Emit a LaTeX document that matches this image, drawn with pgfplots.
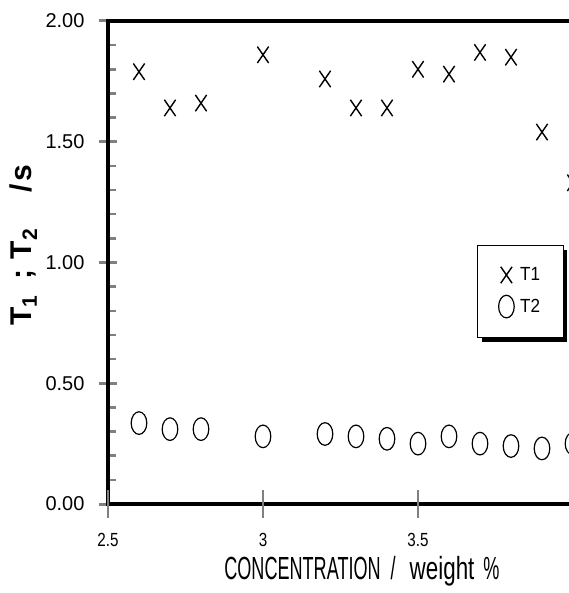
\documentclass[border=0pt]{standalone}
\usepackage{pgfplots}
\pgfplotsset{compat=1.18}
\usepackage{fontspec}
\setmainfont{Liberation Sans}
\newfontfamily\xlabcaps[FakeStretch=0.565]{Liberation Sans}
\newfontfamily\xlablow[FakeStretch=0.7]{Liberation Sans}
\newfontfamily\ylabfont{Liberation Sans Bold}
\newfontfamily\tickfont[FakeStretch=0.8]{Liberation Sans}
\newfontfamily\legfont[FakeStretch=0.9]{Liberation Sans}
\newcommand\ytl{\fontsize{20bp}{22bp}\selectfont}
\newcommand\xtl{\tickfont\fontsize{19bp}{21bp}\selectfont}
\newcommand\lgf{\legfont\fontsize{19bp}{21bp}\selectfont}
\usetikzlibrary{shadows}
\begin{document}
\begin{tikzpicture}
\begin{axis}[
  scale only axis,
  width=496bp, height=483bp,
  xmin=2.5, xmax=4.1, ymin=0, ymax=2,
  clip=false,
  axis line style={line width=3.5bp},
  xtick=\empty,
  extra x ticks={2.5,3,3.5,4},
  extra x tick labels={{\xtl 2.5},{\xtl 3},{\xtl 3.5},{\xtl 4}},
  extra x tick style={major tick length=28bp, tick style={line width=1.5bp}},
  xticklabel style={yshift=-12bp},
  xtick pos=bottom,
  ytick={0,0.5,1,1.5,2},
  yticklabels={{\ytl 0.00},{\ytl 0.50},{\ytl 1.00},{\ytl 1.50},{\ytl 2.00}},
  yticklabel style={xshift=-11bp},
  minor y tick num=4,
  ytick pos=left,
  tick align=center,
  major tick length=18bp,
  minor tick length=8bp,
  major y tick style={line width=3bp},
  minor y tick style={xshift=4bp, line width=2.5bp},
  xlabel={{\xlabcaps CONCENTRATION}\hspace{10bp}/\hspace{14bp}{\xlablow weight}\hspace{9bp}\%},
  xlabel style={font=\xlabcaps\fontsize{32bp}{36bp}\selectfont, at={(axis description cs:0.512,-0.157)}, anchor=base},
  ylabel={T\textsubscript{1}\hspace{16bp};\hspace{10bp}T\textsubscript{2}\hspace{36bp}/\hspace{3bp}s},
  ylabel style={font=\ylabfont\fontsize{30bp}{34bp}\selectfont, at={(axis description cs:-0.1552,0.536)}, anchor=base},
  legend style={at={(axis description cs:0.744,0.536)}, anchor=north west, draw, line width=1.2bp, fill=white,
    inner xsep=21bp, inner ysep=20bp, row sep=11bp, column sep=4bp,
    drop shadow={shadow xshift=4bp, shadow yshift=-4bp, fill=black, opacity=1}},
  legend cell align=left,
]
\addplot[only marks, mark=x, mark size=8bp, mark options={yscale=1.45, line width=1.4bp}] coordinates {
 (2.6,1.79)(2.7,1.64)(2.8,1.66)(3.0,1.86)(3.2,1.76)(3.3,1.64)(3.4,1.64)(3.5,1.80)(3.6,1.78)(3.7,1.87)(3.8,1.85)(3.9,1.54)(4.0,1.33)
};
\addlegendentry{\lgf T1}
\addplot[only marks, mark=o, mark size=7.8bp, mark options={yscale=1.45, line width=1.2bp}] coordinates {
 (2.6,0.335)(2.7,0.31)(2.8,0.31)(3.0,0.28)(3.2,0.29)(3.3,0.28)(3.4,0.27)(3.5,0.25)(3.6,0.28)(3.7,0.25)(3.8,0.24)(3.9,0.23)(4.0,0.25)
};
\addlegendentry{\lgf T2}
\coordinate (O) at (axis cs:2.5,0);
\coordinate (T) at (axis cs:2.5,2);
\end{axis}
\pgfresetboundingbox
\path ([shift={(-108bp,-89bp)}]O) rectangle ([shift={(461bp,21bp)}]T);
\end{tikzpicture}
\end{document}
